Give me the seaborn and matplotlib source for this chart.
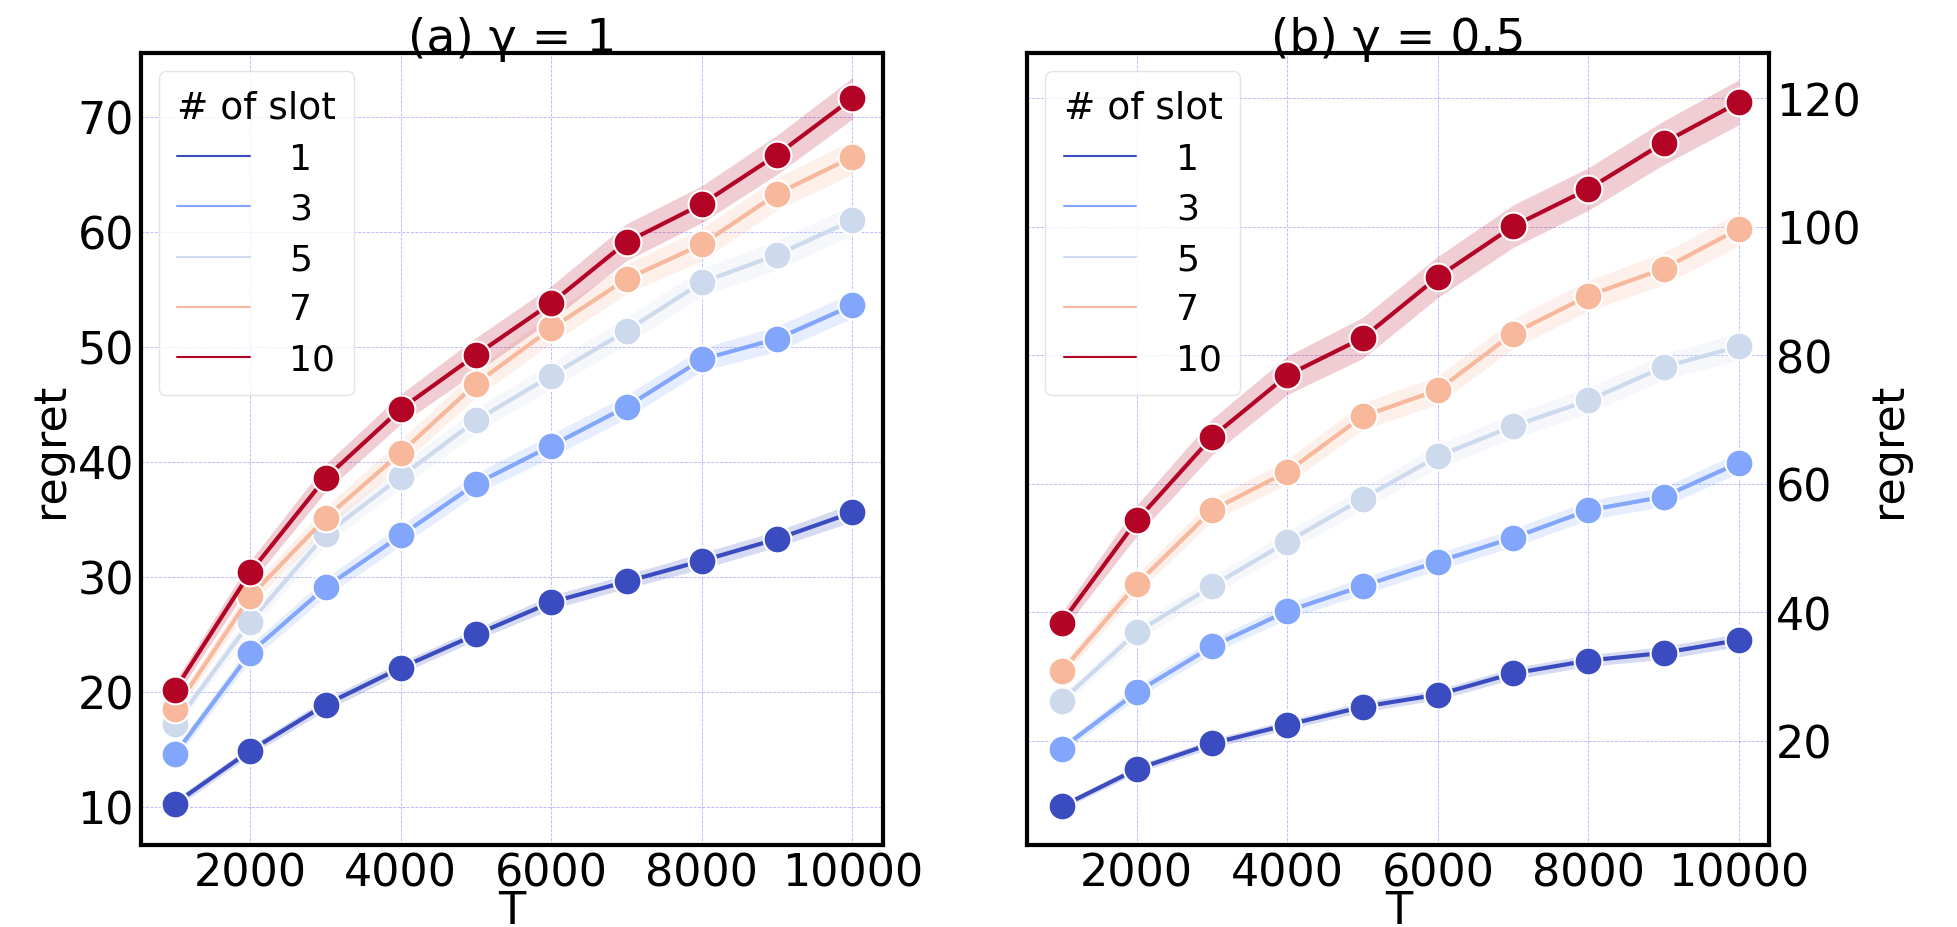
import numpy as np
import pandas as pd
import seaborn as sns
import matplotlib.pyplot as plt
from matplotlib import cm
from matplotlib.lines import Line2D

T = [1000, 2000, 3000, 4000, 5000, 6000, 7000, 8000, 9000, 10000]
slots = [1, 3, 5, 7, 10]

# (a) gamma = 1
regret_a = {
    1: [10.3, 14.9, 18.9, 22.1, 25.0, 27.8, 29.6, 31.4, 33.3, 35.6],
    3: [14.6, 23.4, 29.1, 33.6, 38.1, 41.4, 44.8, 48.9, 50.7, 53.6],
    5: [17.2, 26.1, 33.7, 38.7, 43.6, 47.5, 51.4, 55.6, 58.0, 61.0],
    7: [18.5, 28.3, 35.1, 40.8, 46.8, 51.6, 55.9, 58.9, 63.3, 66.5],
    10: [20.2, 30.4, 38.6, 44.6, 49.3, 53.8, 59.1, 62.4, 66.7, 71.6],
}
band_a = {
    1: [0.4, 0.4, 0.5, 0.5, 0.5, 0.6, 0.6, 0.7, 0.7, 0.8],
    3: [0.5, 0.7, 0.8, 0.9, 0.9, 1.0, 1.0, 1.0, 1.1, 1.1],
    5: [0.5, 0.8, 0.9, 1.0, 1.1, 1.1, 1.2, 1.2, 1.3, 1.3],
    7: [0.6, 0.8, 1.0, 1.1, 1.2, 1.3, 1.3, 1.4, 1.4, 1.5],
    10: [0.7, 1.0, 1.2, 1.3, 1.5, 1.5, 1.6, 1.6, 1.7, 1.8],
}

# (b) gamma = 0.5
regret_b = {
    1: [9.8, 15.6, 19.6, 22.5, 25.3, 27.2, 30.5, 32.5, 33.7, 35.7],
    3: [18.8, 27.6, 34.7, 40.2, 44.1, 47.9, 51.6, 55.9, 58.0, 63.3],
    5: [26.2, 36.9, 44.1, 51.0, 57.7, 64.3, 69.0, 73.0, 78.2, 81.4],
    7: [30.8, 44.4, 55.9, 61.9, 70.5, 74.6, 83.4, 89.3, 93.5, 99.7],
    10: [38.4, 54.3, 67.3, 76.9, 82.7, 92.2, 100.1, 105.9, 113.1, 119.4],
}
band_b = {
    1: [0.5, 0.6, 0.7, 0.7, 0.8, 0.8, 0.9, 0.9, 1.0, 1.0],
    3: [0.7, 1.0, 1.1, 1.2, 1.3, 1.3, 1.4, 1.5, 1.5, 1.6],
    5: [0.8, 1.2, 1.4, 1.6, 1.7, 1.8, 1.9, 2.0, 2.0, 2.1],
    7: [1.0, 1.5, 1.7, 1.9, 2.1, 2.2, 2.3, 2.4, 2.5, 2.6],
    10: [1.5, 2.4, 2.8, 3.0, 3.2, 3.2, 3.3, 3.3, 3.4, 3.5],
}

sns.set_style("white")
plt.rcParams['font.family'] = ['DejaVu Sans']
plt.rcParams['text.color'] = 'black'
plt.rcParams['axes.labelcolor'] = 'black'
plt.rcParams['xtick.color'] = 'black'
plt.rcParams['ytick.color'] = 'black'

colors = {s: cm.coolwarm((s - min(slots)) / (max(slots) - min(slots))) for s in slots}

fig = plt.figure(figsize=(19.57, 9.28), dpi=100)
ax_a = fig.add_axes([0.072, 0.0884, 0.379, 0.853])
ax_b = fig.add_axes([0.525, 0.0884, 0.379, 0.853])


def draw(ax, regret, band, title):
    rows = []
    for s in slots:
        for t, r in zip(T, regret[s]):
            rows.append({'T': t, 'regret': r, 'slot': s})
    df = pd.DataFrame(rows)
    for s in slots:
        lo = np.array(regret[s]) - np.array(band[s])
        hi = np.array(regret[s]) + np.array(band[s])
        ax.fill_between(T, lo, hi, color=colors[s], alpha=0.2, lw=0)
    sns.lineplot(data=df, x='T', y='regret', hue='slot', palette=colors,
                 marker='o', markersize=20, markeredgecolor='white',
                 markeredgewidth=1.5, linewidth=3, errorbar=None,
                 legend=False, ax=ax)
    ax.grid(True, color='blue', alpha=0.3, linestyle='--', linewidth=0.6)
    for sp in ax.spines.values():
        sp.set_color('black')
        sp.set_linewidth(3)
    ax.tick_params(labelsize=32, length=0, pad=5)
    ax.set_xticks([2000, 4000, 6000, 8000, 10000])
    ax.set_xlim(547, 10400)
    ax.set_xlabel('T', fontsize=32, labelpad=-4)
    ax.set_ylabel('regret', fontsize=32)
    ax.set_title(title, fontsize=34, pad=2)
    handles = [Line2D([], [], color=colors[s], lw=1.5) for s in slots]
    leg = ax.legend(handles, [str(s) for s in slots], title='# of slot',
                    loc='upper left', fontsize=26, title_fontsize=27,
                    frameon=True, handlelength=2.0, handletextpad=1.1,
                    borderpad=0.5, labelspacing=0.45)
    leg.get_frame().set_edgecolor('#dddddd')


draw(ax_a, regret_a, band_a, '(a) γ = 1')
ax_a.set_ylim(6.7, 75.5)
ax_a.set_yticks([10, 20, 30, 40, 50, 60, 70])

draw(ax_b, regret_b, band_b, '(b) γ = 0.5')
ax_b.set_ylim(3.8, 127)
ax_b.set_yticks([20, 40, 60, 80, 100, 120])
ax_b.yaxis.tick_right()
ax_b.yaxis.set_label_position('right')

fig.savefig('out.png', dpi=100)
